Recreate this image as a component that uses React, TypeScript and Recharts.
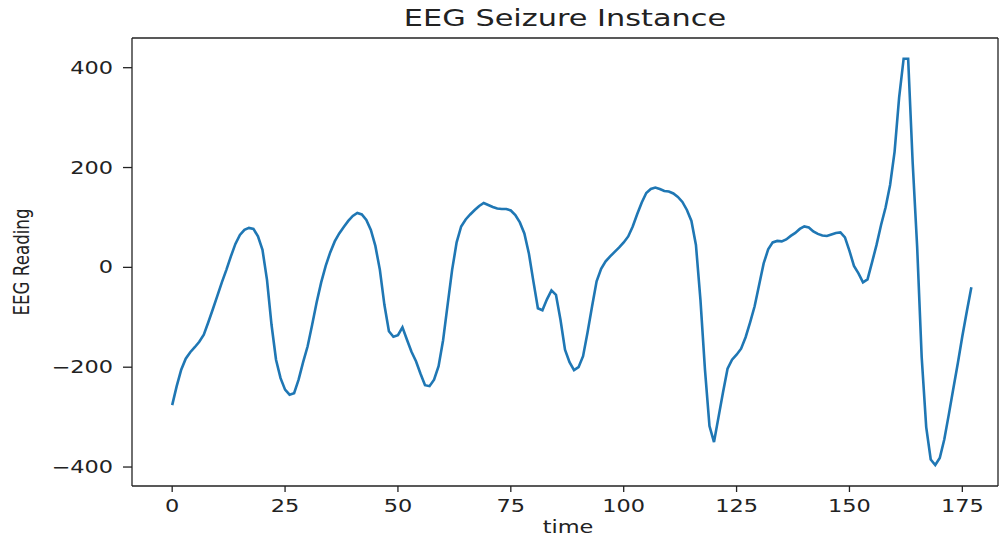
import { LineChart, Line, XAxis, YAxis, ReferenceLine } from "recharts";

// EEG reading per time step (t = 0..177)
const EEG_VALUES = [
  -276, -238, -205, -183, -170, -160, -149, -135, -110, -84,
  -57, -30, -5, 22, 47, 65, 75, 79, 77, 62,
  35, -25, -115, -185, -222, -245, -255, -252, -225, -190,
  -158, -115, -70, -30, 3, 30, 52, 68, 81, 93,
  103, 109, 106, 95, 75, 43, -5, -75, -128, -139,
  -136, -120, -145, -169, -188, -213, -236, -238, -225, -198,
  -146, -75, -5, 50, 82, 96, 106, 115, 123, 129,
  125, 121, 118, 117, 117, 114, 105, 90, 68, 28,
  -28, -82, -86, -64, -46, -55, -105, -165, -190, -206,
  -200, -178, -130, -78, -28, -3, 12, 22, 31, 40,
  50, 62, 82, 107, 130, 149, 157, 160, 157, 153,
  152, 148, 141, 131, 115, 93, 45, -65, -205, -318,
  -350, -300, -250, -203, -185, -175, -163, -140, -110, -78,
  -35, 8, 36, 50, 53, 52, 56, 63, 69, 77,
  82, 80, 72, 67, 64, 63, 66, 69, 70, 60,
  33, 3, -12, -30, -24, 10, 45, 85, 120, 165,
  232, 340, 418, 418, 210, 40, -180, -320, -385, -396,
  -382, -345, -295, -243, -192, -138, -88, -40,
];

const X_TICKS = [0, 25, 50, 75, 100, 125, 150, 175];
const Y_TICKS = [-400, -200, 0, 200, 400];
const X_DOMAIN = [-8.9, 182.9];
const Y_DOMAIN = [-438, 459.5];

const TITLE = "EEG Seizure Instance";
const X_LABEL = "time";
const Y_LABEL = "EEG Reading";

const data = EEG_VALUES.map((v, i) => ({ time: i, eeg: v }));

const FONT = "DejaVu Sans";
const TEXT = "#222";
const SX = 1.32; // the reference is stretched horizontally

const fmt = (v: number) => (v < 0 ? "\u2212" + Math.abs(v) : String(v));

function XTick(props: any) {
  const { x, y, payload } = props;
  return (
    <g transform={`translate(${x},${y}) scale(${SX},1)`}>
      <text textAnchor="middle" dy="0.71em" fontSize={17} fontFamily={FONT} fill={TEXT}>
        {fmt(payload.value)}
      </text>
    </g>
  );
}

function YTick(props: any) {
  const { x, y, payload } = props;
  return (
    <g transform={`translate(${x},${y}) scale(${SX},1)`}>
      <text textAnchor="end" dy="0.36em" fontSize={17} fontFamily={FONT} fill={TEXT}>
        {fmt(payload.value)}
      </text>
    </g>
  );
}

export default function App() {
  const axisLine = { stroke: "#222", strokeWidth: 1.3 };
  return (
    <div style={{ position: "fixed", left: 0, top: 0, width: 1000, height: 538, background: "#fff" }}>
      <LineChart width={1000} height={538} data={data} margin={{ top: 38, right: 2, bottom: 0, left: 0 }}>
        <XAxis
          dataKey="time"
          type="number"
          domain={X_DOMAIN}
          allowDataOverflow
          ticks={X_TICKS}
          height={52}
          tickSize={6}
          tickMargin={8}
          axisLine={axisLine}
          tickLine={axisLine}
          tick={<XTick />}
        />
        <YAxis
          type="number"
          domain={Y_DOMAIN}
          allowDataOverflow
          ticks={Y_TICKS}
          width={132}
          tickSize={9}
          tickMargin={10}
          axisLine={axisLine}
          tickLine={axisLine}
          tick={<YTick />}
        />
        {/* top and right spines */}
        <ReferenceLine y={Y_DOMAIN[1]} stroke="#222" strokeWidth={1.3} ifOverflow="extendDomain" />
        <ReferenceLine x={X_DOMAIN[1]} stroke="#222" strokeWidth={1.3} ifOverflow="extendDomain" />
        <Line
          dataKey="eeg"
          type="linear"
          stroke="#1f77b4"
          strokeWidth={2.6}
          dot={false}
          isAnimationActive={false}
        />
      </LineChart>
      <svg width={1000} height={538} style={{ position: "absolute", left: 0, top: 0, pointerEvents: "none" }}>
        <g transform={`translate(565,26) scale(${SX},1)`}>
          <text textAnchor="middle" fontSize={23} fontFamily={FONT} fill={TEXT}>
            {TITLE}
          </text>
        </g>
        <g transform={`translate(568,533) scale(${SX},1)`}>
          <text textAnchor="middle" fontSize={17} fontFamily={FONT} fill={TEXT}>
            {X_LABEL}
          </text>
        </g>
        <g transform={`translate(29,262) scale(${SX},1) rotate(-90)`}>
          <text textAnchor="middle" fontSize={16.7} fontFamily={FONT} fill={TEXT}>
            {Y_LABEL}
          </text>
        </g>
      </svg>
    </div>
  );
}
